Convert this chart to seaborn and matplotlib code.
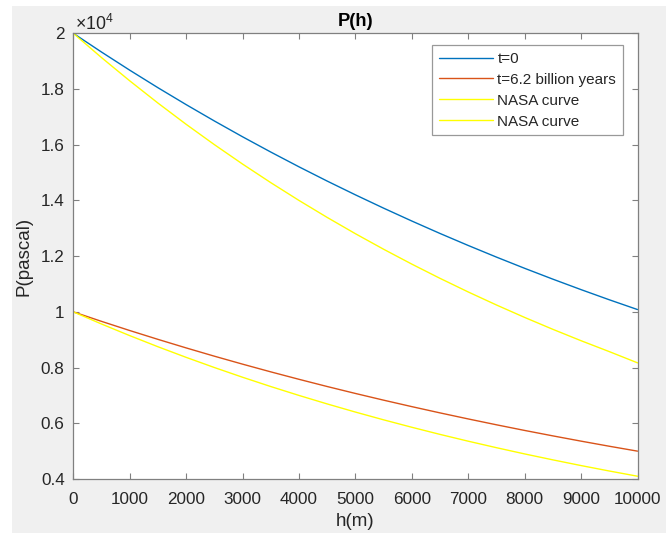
import matplotlib
matplotlib.use("Agg")
import matplotlib.pyplot as plt
import seaborn as sns
import pandas as pd
from matplotlib.patches import Rectangle
from matplotlib.ticker import FuncFormatter, MultipleLocator

# ---- data ----
h = [0, 500, 1000, 1500, 2000, 2500, 3000, 3500, 4000, 4500, 5000,
     5500, 6000, 6500, 7000, 7500, 8000, 8500, 9000, 9500, 10000]
p_t0 = [20000, 19327, 18676, 18047, 17440, 16853, 16285, 15737, 15207, 14695, 14201,
        13723, 13261, 12814, 12383, 11966, 11563, 11174, 10798, 10434, 10083]
p_t62 = [10000, 9659, 9330, 9013, 8706, 8409, 8123, 7846, 7579, 7320, 7071,
         6830, 6598, 6373, 6156, 5946, 5743, 5548, 5359, 5176, 5000]
nasa_hi = [20000, 19128, 18294, 17496, 16733, 16004, 15306, 14639, 14000, 13390, 12806,
           12248, 11714, 11203, 10714, 10247, 9800, 9373, 8964, 8573, 8170]
nasa_lo = [10000, 9564, 9147, 8748, 8367, 8002, 7653, 7319, 7000, 6695, 6403,
           6124, 5857, 5601, 5357, 5124, 4900, 4687, 4482, 4287, 4100]
labels = ["t=0", "t=6.2 billion years", "NASA curve", "NASA curve"]
colors = ["#0072BD", "#D95319", "#FFFF00", "#FFFF00"]

sns.set_style("white")
plt.rcParams["font.family"] = ["Liberation Sans", "DejaVu Sans"]
plt.rcParams["mathtext.fontset"] = "custom"
plt.rcParams["mathtext.rm"] = "Liberation Sans"
plt.rcParams["mathtext.it"] = "Liberation Sans:italic"
plt.rcParams["mathtext.bf"] = "Liberation Sans:bold"

fig = plt.figure(figsize=(6.69, 5.34), dpi=100)
fig.patch.set_facecolor("white")
fig.patches.append(Rectangle((12 / 669, 1 / 534), (666 - 12) / 669, (533 - 6) / 534,
                             transform=fig.transFigure, facecolor="#F0F0F0",
                             edgecolor="none", zorder=-10))

ax = fig.add_axes([73.3 / 669, 1 - 479 / 534, (637.5 - 73.3) / 669, (479 - 33.3) / 534])
ax.set_facecolor("white")

for ys, lab, col in zip([p_t0, p_t62, nasa_hi, nasa_lo], labels, colors):
    df = pd.DataFrame({"h": h, "P": ys})
    sns.lineplot(data=df, x="h", y="P", ax=ax, color=col, label=lab, linewidth=1.0)

ax.set_xlim(0, 10000)
ax.set_ylim(4000, 20000)
ax.xaxis.set_major_locator(MultipleLocator(1000))
ax.yaxis.set_major_locator(MultipleLocator(2000))
ax.yaxis.set_major_formatter(FuncFormatter(lambda v, p: f"{v / 1e4:g}"))

txtcol = "#262626"
fs = 12.3
ax.tick_params(direction="in", length=4.5, width=0.8, color="#808080",
               labelsize=fs, labelcolor=txtcol, top=True, right=True,
               bottom=True, left=True)
ax.tick_params(axis="x", pad=9.0)
ax.tick_params(axis="y", pad=6.2)
for s in ax.spines.values():
    s.set_color("#808080")
    s.set_linewidth(0.9)

ax.set_title("P(h)", fontsize=13.2, fontweight="bold", color="black", pad=5)
ax.set_xlabel("h(m)", fontsize=13.5, color=txtcol, labelpad=4.8)
ax.set_ylabel("P(pascal)", fontsize=13.5, color=txtcol, labelpad=6)
ax.text(2 / 564.2, 1 + 3.8 / 445.7, "×10$^{4}$", transform=ax.transAxes,
        fontsize=fs + 0.5, color=txtcol, ha="left", va="baseline")

leg = ax.legend(loc="upper right", fontsize=11, frameon=True, fancybox=False,
                handlelength=3.5, handletextpad=0.3, labelspacing=0.45,
                borderpad=0.45, borderaxespad=0,
                bbox_to_anchor=(1 - 14.5 / 564.2, 1 - 11.7 / 445.7))
leg.get_frame().set_edgecolor("#808080")
leg.get_frame().set_linewidth(0.9)
for t in leg.get_texts():
    t.set_color(txtcol)

fig.savefig("out.png", dpi=100)
